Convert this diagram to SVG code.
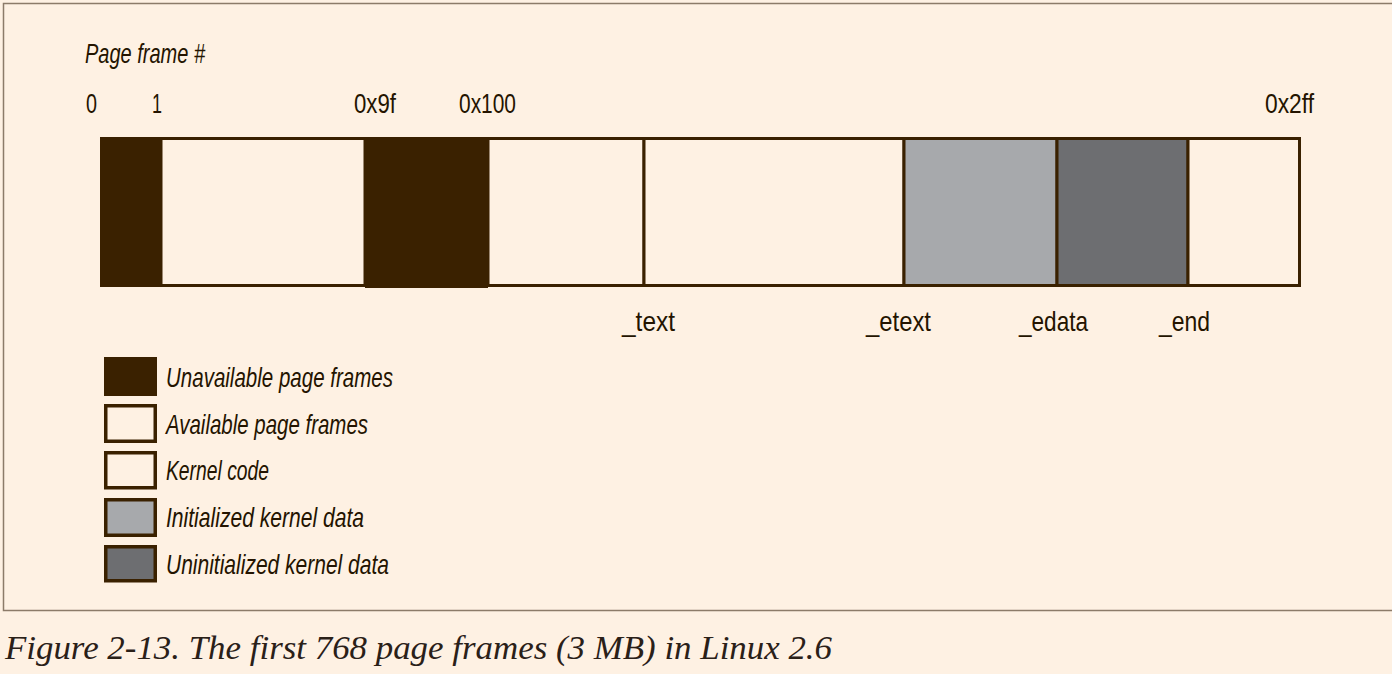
<svg xmlns="http://www.w3.org/2000/svg" width="1392" height="674" viewBox="0 0 1392 674">
<style>
.t{font-family:"Liberation Sans",Arial,sans-serif;font-size:28.5px;fill:#241400}
.i{font-style:italic}
.cap{font-family:"Liberation Serif","Times New Roman",serif;font-style:italic;font-size:34px;fill:#2a2018}
.dk{fill:#3a2100}
.box{stroke:#3a2100;stroke-width:3.5}
.seg{stroke:#3a2100;stroke-width:3}
</style>
<rect x="0" y="0" width="1392" height="674" fill="#fef1e3"/>
<rect x="3.5" y="3.5" width="1400" height="607" fill="#fef1e3" stroke="#8c7b69" stroke-width="1.5"/>
<text class="t i" x="85" y="63" textLength="120" lengthAdjust="spacingAndGlyphs">Page frame #</text>
<g id="ticks">
<text class="t" x="86" y="113" textLength="11" lengthAdjust="spacingAndGlyphs">0</text>
<text class="t" x="152" y="113" textLength="10" lengthAdjust="spacingAndGlyphs">1</text>
<text class="t" x="354" y="113" textLength="42" lengthAdjust="spacingAndGlyphs">0x9f</text>
<text class="t" x="459" y="113" textLength="57" lengthAdjust="spacingAndGlyphs">0x100</text>
<text class="t" x="1265" y="113" textLength="49" lengthAdjust="spacingAndGlyphs">0x2ff</text>
</g>
<g id="bar">
<rect id="avail1" class="seg" x="161" y="138.5" width="204" height="147" fill="#fef1e3"/>
<rect id="avail2" class="seg" x="488" y="138.5" width="156" height="147" fill="#fef1e3"/>
<rect id="kcode" class="seg" x="644" y="138.5" width="260" height="147" fill="#fef1e3"/>
<rect id="idata" class="seg" x="904" y="138.5" width="153" height="147" fill="#a7a9ac"/>
<rect id="udata" class="seg" x="1057" y="138.5" width="131" height="147" fill="#6d6e71"/>
<rect id="avail3" class="seg" x="1188" y="138.5" width="111.5" height="147" fill="#fef1e3"/>
<rect id="unavail1" class="dk" x="100" y="137" width="61" height="150"/>
<rect id="unavail2" class="dk" x="365" y="137" width="123" height="151"/>
</g>
<g id="symbols">
<text class="t" x="622" y="331" textLength="53" lengthAdjust="spacingAndGlyphs">_text</text>
<text class="t" x="866" y="331" textLength="65" lengthAdjust="spacingAndGlyphs">_etext</text>
<text class="t" x="1019" y="331" textLength="69" lengthAdjust="spacingAndGlyphs">_edata</text>
<text class="t" x="1159" y="331" textLength="51" lengthAdjust="spacingAndGlyphs">_end</text>
</g>
<g id="legend">
<g id="leg1"><rect x="104" y="357" width="53" height="39" class="dk"/>
<text class="t i" x="166" y="387" textLength="227" lengthAdjust="spacingAndGlyphs">Unavailable page frames</text></g>
<g id="leg2"><rect x="105.75" y="405.75" width="49.5" height="35.5" class="box" fill="#fef1e3"/>
<text class="t i" x="166" y="434" textLength="202" lengthAdjust="spacingAndGlyphs">Available page frames</text></g>
<g id="leg3"><rect x="105.75" y="452.75" width="49.5" height="35" class="box" fill="#fef1e3"/>
<text class="t i" x="166" y="480" textLength="103" lengthAdjust="spacingAndGlyphs">Kernel code</text></g>
<g id="leg4"><rect x="105.75" y="499.75" width="49.5" height="35.5" class="box" fill="#a7a9ac"/>
<text class="t i" x="166" y="527" textLength="198" lengthAdjust="spacingAndGlyphs">Initialized kernel data</text></g>
<g id="leg5"><rect x="105.75" y="546.75" width="49.5" height="34" class="box" fill="#6d6e71"/>
<text class="t i" x="166" y="574" textLength="223" lengthAdjust="spacingAndGlyphs">Uninitialized kernel data</text></g>
</g>
<text class="cap" x="5" y="659" textLength="827" lengthAdjust="spacingAndGlyphs">Figure 2-13. The first 768 page frames (3 MB) in Linux 2.6</text>
</svg>
